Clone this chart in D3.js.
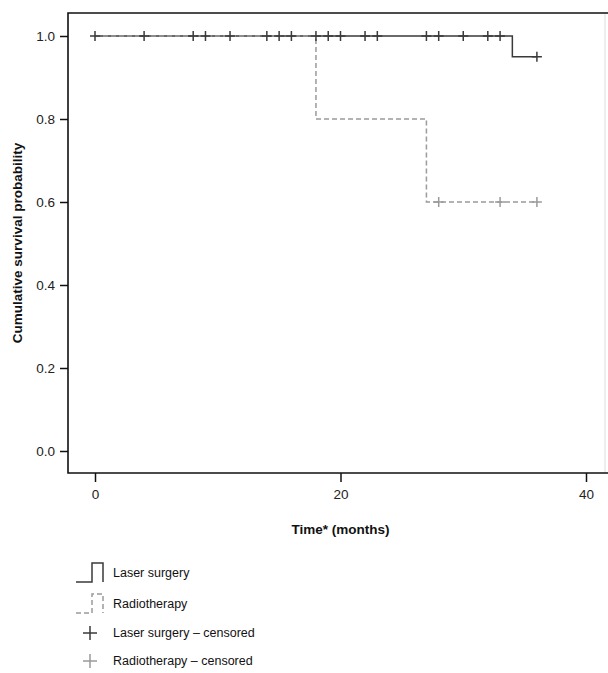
<!DOCTYPE html>
<html>
<head>
<meta charset="utf-8">
<script src="https://cdn.jsdelivr.net/npm/d3@7"></script>
<style>
body { margin: 0; background: #fff; }
</style>
</head>
<body>
<div class="area"></div>
<script>
// step data for the two groups
var laserTime = [0, 34, 36];
var laserSurv = [1, 0.95, 0.95];
var radioTime = [0, 18, 27, 36];
var radioSurv = [1, 0.8, 0.6, 0.6];
// censored observations
var laserCens = [0, 4, 8, 9, 11, 14, 15, 16, 18, 19, 20, 22, 23, 27, 28, 30, 32, 33];
var laserCensSurv = 1.0;
var laserCensEnd = [36];
var laserCensEndSurv = 0.95;
var radioCens = [28, 33, 36];
var radioCensSurv = 0.6;
var yTicks = [0, 0.2, 0.4, 0.6, 0.8, 1.0];
var xTicks = [0, 20, 40];
var legendLabels = ['Laser surgery', 'Radiotherapy', 'Laser surgery \u2013 censored', 'Radiotherapy \u2013 censored'];

var dark = '#3a3a3a', grey = '#9a9a9a';
var font = 'Liberation Sans, Arial, Helvetica, sans-serif';

var svg = d3.select('.area').append('svg')
    .attr('width', 608)
    .attr('height', 673);

var boxL = 68, boxT = 13, boxR = 605, boxB = 473;

var x = d3.scaleLinear().domain([0, 40]).range([95, 586]);
var y = d3.scaleLinear().domain([0, 1]).range([451, 36]);

// frame: dark left/top/bottom, faint right edge
svg.append('line').attr('x1', boxR).attr('x2', boxR).attr('y1', boxT).attr('y2', boxB)
    .attr('stroke', '#ddd').attr('stroke-width', 1);
svg.append('path')
    .attr('d', 'M' + 608 + ',' + boxT + 'H' + boxL + 'V' + boxB + 'H' + 608)
    .attr('fill', 'none')
    .attr('stroke', '#111')
    .attr('stroke-width', 1.6);

// axes
var yAxis = svg.append('g')
    .attr('transform', 'translate(' + boxL + ',0)')
    .call(d3.axisLeft(y).tickValues(yTicks).tickFormat(d3.format('.1f')).tickSize(8).tickPadding(5));
var xAxis = svg.append('g')
    .attr('transform', 'translate(0,' + boxB + ')')
    .call(d3.axisBottom(x).tickValues(xTicks).tickSize(9).tickPadding(7));
[yAxis, xAxis].forEach(function (a) {
    a.select('.domain').remove();
    a.selectAll('line').attr('stroke', '#111').attr('stroke-width', 1.5);
    a.selectAll('text').attr('font-family', font).style('font-size', '13.5px').attr('fill', '#222');
});

// axis titles
svg.append('text')
    .attr('transform', 'translate(22,' + ((boxT + boxB) / 2) + ') rotate(-90)')
    .attr('text-anchor', 'middle')
    .attr('font-family', font)
    .attr('font-weight', 'bold')
    .style('font-size', '13.5px')
    .attr('fill', '#111')
    .text('Cumulative survival probability');

svg.append('text')
    .attr('x', x(20))
    .attr('y', 534)
    .attr('text-anchor', 'middle')
    .attr('font-family', font)
    .attr('font-weight', 'bold')
    .style('font-size', '13.5px')
    .attr('fill', '#111')
    .text('Time* (months)');

var step = d3.line()
    .x(function (d) { return x(d[0]); })
    .y(function (d) { return y(d[1]); })
    .curve(d3.curveStepAfter);

svg.append('path')
    .datum(d3.zip(laserTime, laserSurv))
    .attr('d', step)
    .attr('fill', 'none')
    .attr('stroke', dark)
    .attr('stroke-width', 1.5);

svg.append('path')
    .datum(d3.zip(radioTime, radioSurv))
    .attr('d', step)
    .attr('fill', 'none')
    .attr('stroke', grey)
    .attr('stroke-width', 1.5)
    .attr('stroke-dasharray', '5,3');

function crosses(times, surv, color) {
    var g = svg.append('g').attr('stroke', color).attr('stroke-width', 1.5);
    times.forEach(function (t) {
        g.append('line').attr('x1', x(t) - 5).attr('x2', x(t) + 5)
            .attr('y1', y(surv)).attr('y2', y(surv));
        g.append('line').attr('x1', x(t)).attr('x2', x(t))
            .attr('y1', y(surv) - 5).attr('y2', y(surv) + 5);
    });
}
crosses(laserCens, laserCensSurv, dark);
crosses(laserCensEnd, laserCensEndSurv, dark);
crosses(radioCens, radioCensSurv, grey);

// legend
var legY = [573, 604, 633, 661];
var lg = svg.append('g');
// step icons
lg.append('path')
    .attr('d', 'M76,' + (legY[0] + 9) + 'H92V' + (legY[0] - 10) + 'H103V' + (legY[0] + 9))
    .attr('fill', 'none').attr('stroke', dark).attr('stroke-width', 1.5);
lg.append('path')
    .attr('d', 'M76,' + (legY[1] + 9) + 'H92V' + (legY[1] - 10) + 'H103V' + (legY[1] + 9))
    .attr('fill', 'none').attr('stroke', grey).attr('stroke-width', 1.5)
    .attr('stroke-dasharray', '5,3');
// cross icons
[[legY[2], dark], [legY[3], grey]].forEach(function (c) {
    lg.append('line').attr('x1', 83).attr('x2', 97).attr('y1', c[0]).attr('y2', c[0])
        .attr('stroke', c[1]).attr('stroke-width', 1.5);
    lg.append('line').attr('x1', 90).attr('x2', 90).attr('y1', c[0] - 7).attr('y2', c[0] + 7)
        .attr('stroke', c[1]).attr('stroke-width', 1.5);
});
legendLabels.forEach(function (l, i) {
    lg.append('text')
        .attr('x', 113)
        .attr('y', legY[i] + 4)
        .attr('font-family', font)
        .style('font-size', '12.5px')
        .attr('fill', '#111')
        .text(l);
});
</script>
</body>
</html>
